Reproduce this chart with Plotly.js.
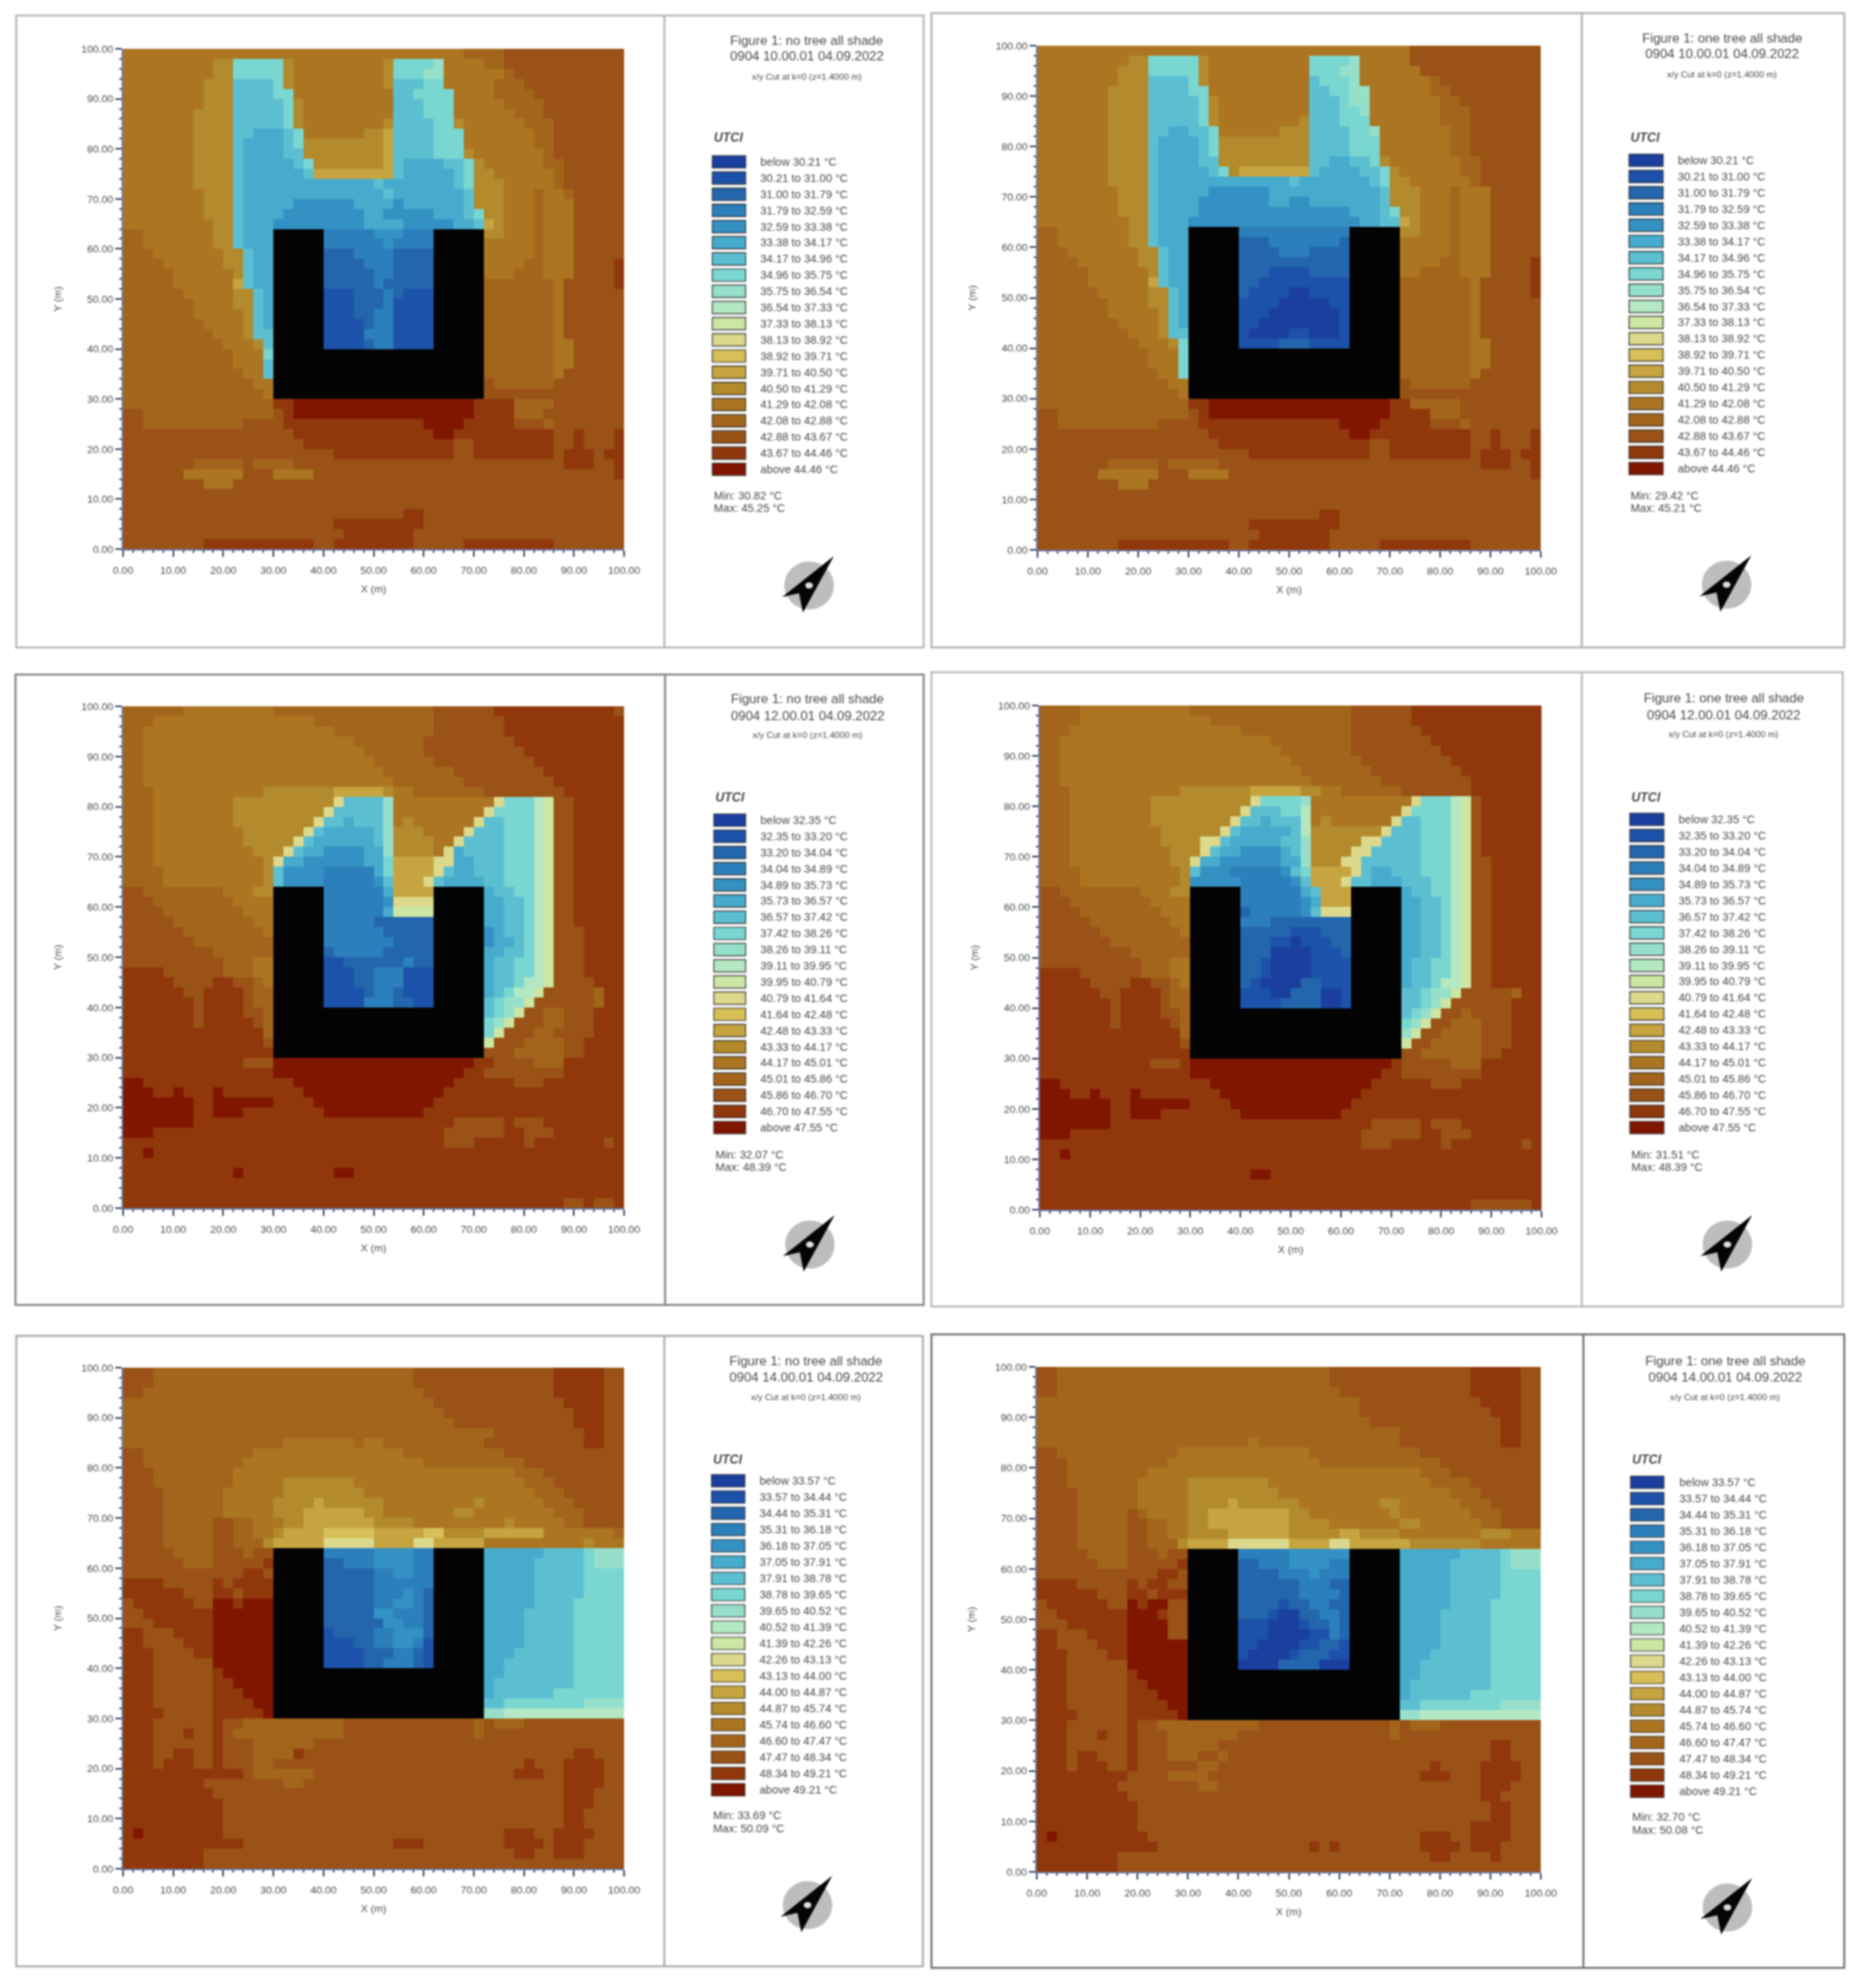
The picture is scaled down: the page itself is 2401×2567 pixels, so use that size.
<!DOCTYPE html>
<html>
<head>
<meta charset="utf-8">
<script src="https://cdn.plot.ly/plotly-3.0.1.min.js"></script>
<style>html,body{margin:0;padding:0;background:#fff}#g{width:2401px;height:2567px;filter:blur(1px)}</style>
</head>
<body>
<div id="g"></div>
<script>
// Cell classes: each row runs top (y=100) to bottom (y=0);
// "p34" means class p up to column 34 of 50. '#' is the building.
const classLetters = 'abcdefghijklmnopqrst#';
const classColors = ['#1a3f9f','#1c52aa','#2366ad','#2b7fbb','#3491c4','#46abcd','#5cbfd1','#79d6d1','#96e0cb','#b4e8c3','#cde6a3','#dcd98c','#d8bf58','#c6a43f','#b38a2c','#ac7522','#a3651b','#9a5216','#90380b','#801500','#030303'];

const noTree10 = [
'p34 q38 r50','p9 o11 h16 o17 p26 o27 h31 i32 p36 q38 r50','p9 o11 h16 o17 p26 o27 h30 i32 p38 q39 r50','p8 o11 g15 h16 o17 p26 o27 g30 h32 p37 q40 r50','p8 o11 g15 h17 p27 g29 h33 p37 q41 r50',
'p8 o11 g16 h17 o18 p27 g30 h33 p38 q42 r50','p7 o11 g16 h17 o18 p27 g30 h33 p39 q42 r50','p7 o11 g16 h17 o18 p26 o27 g31 h33 o34 p40 q43 r50','p7 o11 g13 f16 g17 h18 p24 o26 n27 g31 h34 p41 q43 r50','p7 o11 g12 f16 g17 h18 o26 n27 g31 h34 p41 q43 r50',
'p7 o11 g12 f16 g18 o26 n27 g31 h34 o35 p42 q43 r50','p7 o11 g12 f17 g18 h19 o26 n27 g28 f32 g34 h35 o36 p42 q44 r50','p7 o11 g12 f18 g19 n27 g28 f33 g34 h35 o37 p43 q44 r50','p7 o11 g12 f25 g26 f33 g34 h35 o38 p43 q44 r50','p8 o11 g12 f26 g27 f34 g35 o38 p41 q42 p44 q45 r50',
'p8 o11 g12 f17 e23 f27 e28 f34 g35 o38 p41 q42 p45 r50','p8 o11 g12 f16 e24 f26 e31 f34 g35 h36 o38 p41 q42 p45 r50','p9 o11 g12 f15 e24 f28 e33 f35 g36 n37 o38 p41 q42 p45 r50','q2 p9 o11 g12 f15 #20 d25 e28 d31 #36 o38 p41 q42 p45 r50','q2 p9 o11 g12 f15 #20 d26 e27 d31 #36 p41 q42 p45 r50',
'q3 p10 o12 g13 f15 #20 c23 d27 c31 #36 p41 q42 p45 r50','q4 p10 o12 g13 f15 #20 c24 d27 c31 #36 p40 q42 p45 r49 s50','q5 p11 o12 g13 f15 #20 c25 d27 c31 #36 p39 q42 p45 r49 s50','q5 p11 n12 g13 f15 #20 c25 d26 c31 #36 q43 p44 r49 s50','q6 p11 o13 g14 f15 #20 b23 c26 d27 c28 b31 #36 q43 p44 r50',
'q7 p11 o13 g14 f15 #20 b23 c26 d27 b31 #36 q43 p44 r50','q7 p12 o13 g14 f15 #20 b23 c25 d27 b31 #36 q43 p44 r50','q8 p12 o13 g14 f15 #20 b24 c25 d27 b31 #36 q43 p44 r50','q9 p12 o13 g15 #20 b24 d27 b31 #36 q43 p44 r50','q10 p13 o14 g15 #20 b24 c25 d27 b31 #36 q43 p45 r50',
'q11 p14 h15 #36 q43 p45 r50','q11 p14 g15 #36 q43 p45 r50','q12 p14 g15 #36 q43 p44 r50','q13 p15 #36 r37 q43 r50','q14 p15 #36 r50',
'q15 s17 t35 s39 q43 r50','r2 q15 r16 s17 t35 s39 q42 r50','r2 q12 r16 s30 t34 s39 r42 q43 r50','r17 s31 t33 s43 r45 s46 r49 s50','r18 s33 r35 s43 r45 s46 r49 s50',
'r21 s33 r35 s43 r44 s47 r48 s50','r7 q12 r13 q17 r44 s47 r49 s50','r6 p12 r15 p19 r49 s50','r8 p11 r50','r50',
'r50','r28 s30 r50','r21 s30 r50','r22 s29 r50','r8 s19 r21 s29 r34 s43 r50'];

const oneTree10 = [
'p37 r50','p9 o11 h16 o17 p27 h31 i32 p37 r50','p8 o11 h16 o17 p27 h30 i32 p38 r50','p8 o11 g15 h16 o17 p27 g28 h31 i32 p39 q40 r50','p7 o11 g15 h17 p27 g29 h31 i33 p39 q41 r50',
'p7 o11 g16 h17 o18 p27 g30 h31 i33 p40 q42 r50','p7 o11 g16 h17 o18 p27 g30 h32 i33 p40 q43 r50','p7 o11 g16 h17 o18 p26 o27 g30 h33 p40 q43 r50','p7 o11 g13 f15 g17 h18 p24 o27 g31 h33 i34 p41 q43 r50','p7 o11 g12 f16 g17 h18 o19 o27 g31 h34 p41 q43 r50',
'p7 o11 g12 f16 g17 h18 o27 g31 h34 p41 q43 r50','p7 o11 g12 f16 g18 o27 g29 f31 g33 h34 o35 p42 q44 r50','p7 o11 g12 f17 g18 h19 o20 n27 g28 f32 g34 h35 o36 p42 q44 r50','p7 o11 g12 f25 g26 f33 g34 h35 o37 p43 q44 r50','p8 o11 g12 f17 e23 f34 g35 o38 p41 q42 p45 r50',
'p8 o11 g12 f16 e23 f25 e27 f34 g35 o38 p41 q42 p45 r50','p8 o11 g12 f16 e31 f34 g35 h36 o38 p41 q42 p45 r50','p9 o11 g12 f15 e32 f34 g36 n37 o38 p41 q42 p45 r50','q2 p9 o11 g12 f15 #20 d31 #36 o38 p41 q42 p45 r50','q2 p9 o11 g12 f15 #20 c23 d30 c31 #36 p41 q42 p45 r50',
'q3 p10 o12 g13 f15 #20 c24 d27 c31 #36 p41 q42 p45 r50','q4 p10 o12 g13 f15 #20 c31 #36 p40 q42 p45 r49 s50','q5 p11 o12 g13 f15 #20 c23 b27 c31 #36 p38 q42 p45 r49 s50','q5 p11 n12 g13 f15 #20 c22 b31 #36 q43 p44 r49 s50','q6 p11 o13 g14 f15 #20 c21 b25 a27 b31 #36 q43 p44 r49 s50',
'q7 p11 o13 g14 f15 #20 b24 a29 b31 #36 q43 p44 r50','q7 p12 o13 g14 f15 #20 b23 a30 b31 #36 q43 p44 r50','q8 p12 o13 g14 f15 #20 b22 a30 b31 #36 q43 p44 r50','q9 p12 o13 g15 #20 b21 a25 b27 a30 b31 #36 q43 p44 r50','q10 p13 o14 h15 #20 b24 c27 b31 #36 q43 p45 r50',
'q11 p14 h15 #36 q43 p45 r50','q11 p14 h15 #36 q43 p45 r50','q12 p14 h15 #36 q43 p44 r50','q13 p15 #36 r37 q43 r50','q14 p15 #36 r50',
'q15 s17 t35 s37 q42 r50','r2 q15 r16 s17 t35 s39 q42 r50','r2 q12 r16 s30 t34 s39 r42 q43 r50','r17 s31 t33 s43 r45 s46 r49 s50','r18 s33 r35 s43 r45 s46 r49 s50',
'r21 s33 r35 s43 r44 s47 r48 s50','r7 q12 r13 q18 r44 s47 r49 s50','r6 p12 r15 p19 r49 s50','r8 p11 r50','r50',
'r50','r28 s30 r50','r21 s30 r50','r22 s29 r50','r8 s19 r21 s29 r34 s43 r50'];

const noTree12 = [
'q6 p15 q31 r37 s49 r50','q3 p19 q31 r38 s50','q2 p21 q31 r38 s50','q2 p23 q30 r39 s50','q2 p24 q30 r40 s50',
'q2 p25 q31 r41 s50','q2 p26 q33 r42 s50','q2 p27 q34 r43 s50','q3 p14 o21 n26 o27 p29 q36 r44 s50','q3 p11 o21 l22 g26 i27 p37 l38 h41 j42 k43 r45 s50',
'q3 p11 o20 l21 g26 i27 p36 l37 h41 j42 k43 r45 s50','q3 p11 o19 l20 g22 f23 g26 i27 p28 o29 p35 l36 g38 h41 j42 k43 r45 s50','q3 p12 o18 l19 g20 f25 g26 i27 o30 p34 l35 g38 h41 j42 k43 r45 s50','q3 p12 o17 l18 g19 f25 g26 i27 o31 p33 l34 g38 h41 j42 k43 r45 s50','q3 p13 o16 l17 g18 f20 e24 f26 i27 o31 p32 l33 f34 g38 h41 j42 k43 r45 s50',
'q3 p14 o15 l16 f18 e24 f26 h27 n31 l33 f35 g38 h41 j42 k43 r45 s50','q4 p14 o15 g16 e20 d25 f26 h27 n31 l32 g33 f35 g38 h41 j42 k43 r45 s50','q4 p14 o15 g16 e20 d25 e26 g27 n30 l31 g32 f36 g38 h41 j42 k43 r45 s50','r2 q10 p13 o15 #20 d26 f27 n31 #36 f37 g39 h41 j42 k43 r45 s50','r3 q11 p15 #20 d26 e27 l31 #36 f38 g40 h41 j42 k43 r45 s50',
'r4 q12 p15 #20 d26 f27 k31 #36 f38 g40 h41 j42 k43 r45 s50','r5 q13 p15 #20 d25 c31 #36 f38 g40 h41 j42 k43 r45 s50','r6 q14 p15 #20 d26 c31 #36 e37 f38 g40 h41 j42 k43 r46 s50','r7 q15 #20 d27 c31 #36 e37 f39 g40 h41 j42 k43 r46 s50','r9 q15 #20 c21 d26 c31 #36 f38 g40 h41 j42 k43 r46 s50',
'r10 q13 p15 #20 b22 c28 d29 c31 #36 f37 g39 h41 j42 k43 r46 s50','s4 r10 q13 p15 #20 b23 c25 d28 b31 #36 f37 g39 h41 j42 k43 r46 s50','s5 r9 s11 r13 q14 p15 #20 b23 c25 d28 b31 #36 f37 g39 h40 j42 k43 r47 s50','s6 r8 s12 r13 q15 #20 b24 c25 d27 c28 b31 #36 f37 g38 h39 j41 k42 r47 q48 s50','s7 r8 s12 r13 q15 #20 b24 d27 c29 b31 #36 g37 h38 i40 k41 r47 q48 s50',
's7 r8 s12 r14 q15 #36 g37 h38 i39 k40 r42 q44 r47 s50','s7 r8 s13 r14 q15 #36 h37 i38 k39 r42 q44 r47 s50','s14 q15 #36 h37 k38 r41 q43 r47 s50','s14 r15 #36 k37 r40 q44 r46 s50','s15 #36 r39 q44 r46 s50',
's12 r15 t35 s37 r41 q44 s50','s15 t34 s36 r44 s50','t2 s17 t33 s39 r42 s50','t3 s5 t6 s9 t10 s18 t32 s50','t7 s9 t15 s19 t31 s50',
't7 s9 t12 s20 t30 s50','t7 s33 r38 s39 r42 s50','t3 s32 r38 s40 r43 s50','s32 r35 s40 r41 s48 r49 s50','s2 t3 s50',
's50','s11 t12 s21 t23 s50','s50','s50','s44 r46 s47 r49 s50'];

const oneTree12 = [
'q4 p15 q31 r37 s50','q4 p17 q31 r37 s50','q3 p20 q31 r38 s50','q2 p23 q31 r39 s50','q2 p24 q31 r40 s50',
'q2 p25 q32 r41 s50','q2 p26 q33 r42 s50','q2 p27 q34 r43 s50','q3 p14 o21 n26 o28 p30 q36 r43 s50','q3 p11 o21 l22 h26 i27 p37 l38 h41 j42 k43 r44 s50',
'q3 p11 o20 l21 g24 h26 j27 p36 l37 h41 j42 k43 r44 s50','q3 p11 o19 l20 g22 f23 g26 j27 p28 o29 p35 l36 g38 h41 j42 k43 r44 s50','q3 p12 o18 l19 g20 f25 g26 j27 o34 l35 g38 h41 j42 k43 r44 s50','q3 p12 o16 l18 g19 f24 g26 i27 o32 l34 g38 h41 j42 k43 r44 s50','q3 p13 o16 l17 g18 f20 e24 f25 g26 i27 o31 l33 g38 h41 j42 k43 r44 s50',
'q3 p13 o15 l16 f18 e24 f26 i27 o30 l32 g38 h41 j42 k43 r45 s50','q4 p14 o15 g16 e19 d24 e25 g26 h27 n31 l32 g33 f35 g38 h41 j42 k43 r45 s50','q4 p14 o15 e20 d25 e26 g27 n30 l31 g33 f36 g39 h41 j42 k43 r45 s50','r2 q10 p13 o15 #20 d26 f27 g28 n31 #36 f37 g39 h41 j42 k43 r45 s50','r3 q11 p15 #20 d26 e27 f28 n31 #36 f38 g40 h41 j42 k43 r45 s50',
'r4 q12 p15 #20 c21 d26 e27 g28 l31 #36 f38 g40 h41 j42 k43 r45 s50','r5 q13 p15 #20 d23 c31 #36 f38 g40 h41 j42 k43 r45 s50','r6 q14 p15 #20 c25 b28 c31 #36 f38 g40 h41 j42 k43 r45 s50','r7 q15 #20 c23 b25 a26 b29 c31 #36 f38 g40 h41 j42 k43 r45 s50','r9 q15 #20 c23 a27 b30 c31 #36 f38 g40 h41 j42 k43 r45 s50',
'r10 q13 p15 #20 c22 b23 a27 b31 #36 f37 g39 h41 j42 k43 r45 s50','s4 r10 q13 p15 #20 c22 b23 a27 b31 #36 f37 g39 h41 j42 k43 r45 s50','s5 r9 s11 r13 q14 p15 #20 c21 b22 a26 c28 b31 #36 f37 g39 h40 j42 k43 r45 s50','s6 r8 s12 r13 q15 #20 b23 a25 c28 a30 b31 #36 g38 h39 i41 k42 r47 q48 s50','s7 r8 s12 r13 q15 #20 b24 c28 a30 b31 #36 g38 h39 i40 k41 r47 s50',
's7 r8 s12 r14 q15 #36 g37 h38 i39 k40 r42 q43 r47 s50','s7 r8 s13 r14 q15 #36 h37 i38 k39 r41 q44 r47 s50','s14 q15 #36 i37 k38 r40 q44 r47 s50','s14 r15 #36 k37 r39 q44 r47 s50','s15 #36 r38 q44 r46 s50',
's11 r14 s15 t35 s36 r41 q44 s50','s15 t34 s36 r44 s50','t2 s17 t33 s39 r42 s50','t3 s5 t6 s9 t10 s18 t32 s50','t7 s9 t15 s19 t31 s50',
't7 s9 t12 s20 t30 s50','t7 s33 r38 s39 r42 s50','t3 s32 r38 s40 r43 s50','s32 r35 s40 r41 s48 r49 s50','s2 t3 s50',
's50','s21 t23 s50','s50','s50','s43 r49 s50'];

const noTree14 = [
'r3 q29 r43 s48 r50','r3 q29 r43 s48 r50','r2 q30 r43 s48 r50','q31 r44 s48 r50','q32 r45 s48 r50',
'q33 r45 s48 r50','q37 r46 s48 r50','q16 p23 q24 p26 q36 r46 s48 r50','r2 q13 p28 q38 r50','r2 q12 p30 q40 r50',
'r3 q11 p39 q42 r50','r3 q11 p16 o23 p40 q43 r50','r4 q10 p16 o24 p41 q44 r50','r4 q10 p15 o19 n20 o26 p35 o36 p42 q45 r50','r4 q10 p15 o18 n24 o26 p33 o35 p43 q46 r50',
'r4 q9 r11 q13 p16 o18 n25 o29 p38 o39 p44 q46 r50','r4 q9 r11 q13 p15 o16 n20 m25 n30 m32 o36 n42 p49 q50','r4 q9 r11 q14 o15 n20 l25 n29 l31 n36 p46 o47 p50','r5 q9 r12 q13 r15 #20 d25 e29 d31 #36 f42 g46 h47 i50','r6 q9 r14 s15 #20 c22 d25 e29 d31 #36 f41 g46 h47 i50',
'r12 s14 r15 #20 c25 d27 e29 d31 #36 f41 g46 h50','s4 r9 s10 r11 s15 #20 c25 d31 #36 f41 g46 h50','s6 r9 s11 r12 s15 #20 c25 d28 e29 d30 c31 #36 f41 g46 h50','r1 s7 r9 t11 s12 t15 #20 c25 d27 e29 d30 c31 #36 f41 g45 h50','r2 s9 t15 #20 c25 e27 d30 c31 #36 f40 g45 h50',
'r3 s9 t15 #20 c26 e28 d30 c31 #36 f40 g45 h50','s2 r5 s9 t15 #20 b21 c25 d27 e30 c31 #36 f40 g45 h50','s2 r6 s9 t15 #20 b23 c25 d27 e29 d30 b31 #36 f40 g45 h50','s3 r7 s9 t15 #20 b24 c27 d29 c30 b31 #36 f39 g45 h50','s3 r9 t15 #20 b24 c26 d29 c30 b31 #36 f38 g45 h50',
's3 r9 s10 t15 #36 f38 g45 h50','s3 r9 s11 t15 #36 f37 g45 h50','s3 r9 s12 t15 #36 f37 g43 h50','s3 r9 s13 t15 #36 g38 h46 i50','s4 r9 s14 t15 #36 i38 j50',
's3 r9 s10 r12 q22 r35 q36 r37 q40 r50','s3 r6 s7 r9 s10 r11 q22 r35 q36 r50','s3 r9 s10 r13 q19 r50','s3 r5 s7 r9 s10 r13 q17 s18 r45 s47 r50','s3 r4 s7 r9 s10 r13 q15 r40 s41 r44 s48 r50',
's12 r13 q19 r39 s42 r44 s48 r50','s8 r16 q18 r44 s48 r50','s9 r44 s47 r50','s10 r44 s47 r50','s10 r44 s46 r50',
's10 r44 s46 r50','s1 t2 s10 r38 s41 r43 s47 r50','s12 r27 s30 r38 s42 r43 s46 r50','s8 r39 s41 r43 s46 r50','s8 r50'];

const oneTree14 = [
'r2 q29 r43 s48 r50','r2 q29 r43 s48 r50','r2 q30 r43 s48 r50','q32 r44 s48 r50','q32 r45 s48 r50',
'q33 r46 s48 r50','q36 r46 s48 r50','q21 p22 q36 r46 s48 r50','r2 q14 p27 q38 r50','r3 q13 p28 q40 r50',
'r3 q11 p38 q41 r50','r3 q10 p15 o23 p39 q43 r50','r4 q10 p15 o24 p41 q44 r50','r4 q10 p15 o19 n20 o26 p34 o36 p42 q45 r50','r4 q9 r10 q11 p15 o17 n25 o27 p35 o36 p43 q46 r50',
'r4 q9 r11 q13 p15 o17 n25 o29 p36 o38 p44 q46 r50','r4 q9 r11 q13 p15 o19 n25 o30 n32 o36 p44 o47 p50','r4 q9 r11 q14 o15 n19 l25 n29 l31 n37 o44 p50','r5 q9 r12 q13 r15 #20 d25 e31 #36 f42 g46 h47 i50','r6 q9 r14 s15 #20 c22 d25 e29 d31 #36 f41 g46 h47 i50',
'r12 s14 r15 #20 c24 d27 e28 d31 #36 f41 g46 h50','s4 r9 s10 r11 s13 r15 #20 c26 d29 c31 #36 f41 g46 h50','s6 r9 s11 r12 s15 #20 c26 d30 c31 #36 f41 g46 h50','r1 s7 r9 t10 s11 t13 r15 #20 c24 b25 c27 d29 c31 #36 f41 g45 h50','r2 s9 t12 s13 r15 #20 c23 b24 a26 c28 d30 c31 #36 f40 g45 h50',
'r3 s9 t13 r15 #20 b23 a26 b27 c29 d30 c31 #36 f40 g45 h50','s2 r5 s9 t13 r15 #20 b23 a27 b29 d30 c31 #36 f40 g45 h50','s2 r6 s9 t15 #20 b22 a26 b28 c30 b31 #36 f40 g45 h50','s3 r7 s9 t15 #20 b21 a25 b26 c29 b31 #36 f39 g45 h50','s3 r9 t15 #20 a24 c28 a31 #36 f38 g45 h50',
's3 r9 s10 t15 #36 f38 g45 h50','s3 r9 s11 t15 #36 f37 g45 h50','s3 r9 s12 t15 #36 f37 g43 h50','s3 r9 s13 t15 #36 g38 h46 i50','s4 r9 s14 t15 #36 i38 j50',
's3 r9 s10 r12 q22 r35 q36 r37 q40 r50','s3 r6 s7 r9 s10 r13 q20 r35 q36 r50','s3 r9 s10 r13 q18 r45 s47 r50','s3 r4 s6 r9 s10 r13 q16 r18 q19 r45 s47 r50','s3 r4 s7 r9 s10 r16 q18 r39 s40 r44 s48 r50',
's9 r13 q17 r38 s41 r44 s48 r50','s8 r16 q18 r44 s47 r50','s9 r44 s46 r50','s10 r45 s47 r50','s10 r45 s47 r50',
's10 r43 s47 r50','s1 t2 s11 r38 s41 r43 s47 r50','s12 r27 s28 r29 s30 r38 s42 r43 s46 r50','s8 r39 s41 r45 s46 r50','s8 r50'];

const bounds10 = ['30.21','31.00','31.79','32.59','33.38','34.17','34.96','35.75','36.54','37.33','38.13','38.92','39.71','40.50','41.29','42.08','42.88','43.67','44.46'];
const bounds12 = ['32.35','33.20','34.04','34.89','35.73','36.57','37.42','38.26','39.11','39.95','40.79','41.64','42.48','43.33','44.17','45.01','45.86','46.70','47.55'];
const bounds14 = ['33.57','34.44','35.31','36.18','37.05','37.91','38.78','39.65','40.52','41.39','42.26','43.13','44.00','44.87','45.74','46.60','47.47','48.34','49.21'];

const panelNames = ['no tree','one tree','no tree','one tree','no tree','one tree'];
const panelTimes = ['10.00.01','10.00.01','12.00.01','12.00.01','14.00.01','14.00.01'];
const panelMin = ['30.82','29.42','32.07','31.51','33.69','32.70'];
const panelMax = ['45.25','45.21','48.39','48.39','50.09','50.08'];
const panelGrids = [noTree10, oneTree10, noTree12, oneTree12, noTree14, oneTree14];
const panelBounds = [bounds10, bounds10, bounds12, bounds12, bounds14, bounds14];

// Page layout in pixels
const W = 2401, H = 2567;
const plotBox = [[159,806,63,709],[1340,1990,59,710],[159,806,912,1560],[1343,1991,911,1562],[159,806,1766,2413],[1339,1990,1765,2417]];
const frames = [[21,858,1193,20,836,'#b4b4b4'],[1203,2043,2382,17,836,'#b0b0b0'],[20,859,1193,871,1685,'#808080'],[1203,2043,2380,868,1687,'#b8b8b8'],[21,858,1192,1725,2539,'#a8a8a8'],[1203,2045,2382,1723,2541,'#6e6e6e']];
// swatch left, swatch right, label x, title centre, title1 y, title2 y, sub y, UTCI y, first swatch y, last swatch y, min y, max y, arrow x, arrow y
const legendBox = [
[920,963,980,1042,52,73,99,178,209,606,640,656,1045,756],
[2104,2148,2165,2224,50,70,96,177,207,605,640,656,2230,755],
[922,963,980,1043,903,924,949,1030,1059,1456,1491,1507,1046,1607],
[2105,2149,2166,2226,901,923,948,1029,1058,1456,1491,1507,2231,1607],
[919,962,979,1041,1758,1778,1804,1884,1912,2311,2344,2361,1043,2460],
[2106,2149,2167,2228,1757,1778,1804,1884,1914,2313,2346,2363,2231,2463]];

const px = x => x / W, py = y => 1 - y / H;
const FONT = 'Liberation Sans, Arial, sans-serif';
const TXT = '#4a4a4a';

function expandRow(s){
  const out = []; 
  s.split(' ').forEach(tok => {
    const cls = classLetters.indexOf(tok[0]); const end = +tok.slice(1);
    while (out.length < end) out.push(cls);
  });
  return out;
}
const cellCentres = []; for (let i = 0; i < 50; i++) cellCentres.push(2 * i + 1);
const yCentres = cellCentres.slice().reverse();
const stepScale = [];
classColors.forEach((c, i) => { stepScale.push([i / 21, c]); stepScale.push([(i + 1) / 21, c]); });

const data = [], shapes = [], annotations = [];
const layout = {width: W, height: H, margin: {l:0,r:0,t:0,b:0}, paper_bgcolor:'#fff', plot_bgcolor:'#fff', showlegend:false, shapes, annotations};

function txt(x, y, text, size, extra){
  annotations.push(Object.assign({xref:'paper', yref:'paper', x:px(x), y:py(y), text, showarrow:false, xanchor:'left', yanchor:'middle', font:{family:FONT, size, color:TXT}}, extra||{}));
}
function poly(pts, fill){
  const d = pts.map((p,i) => (i?'L':'M') + px(p[0]) + ',' + py(p[1])).join(' ') + ' Z';
  shapes.push({type:'path', xref:'paper', yref:'paper', path:d, fillcolor:fill, line:{width:0}});
}
function ell(cx, cy, rx, ry, fill){
  shapes.push({type:'circle', xref:'paper', yref:'paper', x0:px(cx-rx), x1:px(cx+rx), y0:py(cy+ry), y1:py(cy-ry), fillcolor:fill, line:{width:0}});
}

panelGrids.forEach((grid, i) => {
  const n = i + 1, sfx = i ? String(n) : '';
  const [l, r, t, b] = plotBox[i];
  data.push({type:'heatmap', x:cellCentres, y:yCentres, z:grid.map(expandRow), zmin:-0.5, zmax:20.5, colorscale:stepScale, showscale:false, xaxis:'x'+sfx, yaxis:'y'+sfx, hoverinfo:'skip'});
  const axis = {range:[0,100], dtick:10, tick0:0, tickformat:'.2f', ticks:'outside', ticklen:8, tickwidth:2, tickcolor:'#2a3a5a',
    tickfont:{family:FONT, size:13.5, color:TXT}, showgrid:false, zeroline:false, showline:true, linecolor:'#6a7aa8', linewidth:2,
    minor:{dtick:2, ticks:'outside', ticklen:3, tickwidth:2, tickcolor:'#3a4a6a', showgrid:false}};
  layout['xaxis'+sfx] = Object.assign({}, axis, {domain:[px(l),px(r)], anchor:'y'+sfx, ticklabelstandoff:6, title:{text:'X (m)', font:{family:FONT,size:13.5,color:TXT}, standoff:12}});
  layout['yaxis'+sfx] = Object.assign({}, axis, {domain:[py(b),py(t)], anchor:'x'+sfx, title:{text:'Y (m)', font:{family:FONT,size:13.5,color:TXT}, standoff:22}});

  const [fl, fd, fr, ft, fb, fc] = frames[i];
  shapes.push({type:'rect', xref:'paper', yref:'paper', x0:px(fl), x1:px(fr), y0:py(fb), y1:py(ft), line:{color:fc, width:2.5}, fillcolor:'rgba(0,0,0,0)', layer:'below'});
  shapes.push({type:'line', xref:'paper', yref:'paper', x0:px(fd), x1:px(fd), y0:py(fb), y1:py(ft), line:{color:fc, width:2.5}});

  const [sl, sr, lx, cx, ty1, ty2, sy, uy, y0, y1, mny, mxy, ax, ay] = legendBox[i];
  const mid = {xanchor:'center'};
  txt(cx, ty1, 'Figure 1: ' + panelNames[i] + ' all shade', 17, mid);
  txt(cx, ty2, '0904 ' + panelTimes[i] + ' 04.09.2022', 17, mid);
  txt(cx, sy, 'x/y Cut at k=0 (z=1.4000 m)', 11.5, mid);
  txt(sl, uy, '<b><i>UTCI</i></b>', 16);
  const bounds = panelBounds[i];
  for (let k = 0; k < 20; k++) {
    const yc = y0 + (y1 - y0) * k / 19;
    shapes.push({type:'rect', xref:'paper', yref:'paper', x0:px(sl), x1:px(sr), y0:py(yc+8), y1:py(yc-8), fillcolor:classColors[k], line:{color:'#2c2c2c', width:1.2}});
    const label = k === 0 ? 'below ' + bounds[0] + ' °C' : k === 19 ? 'above ' + bounds[18] + ' °C' : bounds[k-1] + ' to ' + bounds[k] + ' °C';
    txt(lx, yc, label, 14.5);
  }
  txt(sl, mny, 'Min: ' + panelMin[i] + ' °C', 14.5);
  txt(sl, mxy, 'Max: ' + panelMax[i] + ' °C', 14.5);
  ell(ax, ay, 32, 31, '#bdbdbd');
  poly([[ax+32,ay-38],[ax-35,ay+15],[ax-13,ay+10],[ax-8,ay+35]], '#050505');
  ell(ax, ay, 5, 4, '#dddddd');
});

Plotly.newPlot('g', data, layout, {displayModeBar:false, staticPlot:true});
</script>
</body>
</html>
